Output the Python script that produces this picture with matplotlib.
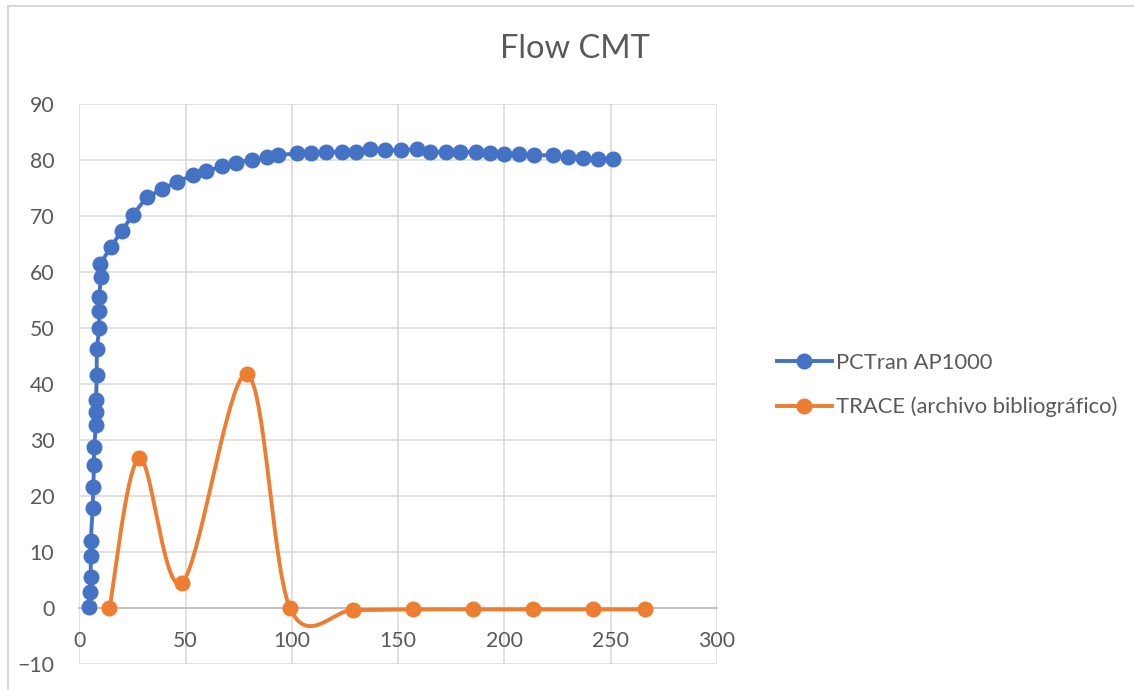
import numpy as np
import matplotlib
matplotlib.use("Agg")
import matplotlib.pyplot as plt
from matplotlib.patches import Rectangle

# ---- data ----
pctran_x = [4.7, 5.0, 5.4, 5.4, 5.4, 6.3, 6.6, 6.9, 6.9, 7.9, 7.9, 7.9, 8.2, 8.2,
            9.4, 9.4, 9.4, 10.1, 9.9,
            14.8, 20.0, 25.1, 31.7, 38.8, 46.1, 53.4, 59.6, 67.0, 73.7, 81.1, 88.2,
            93.6, 102.3, 108.9, 116.1, 123.5, 130.2, 136.8, 143.9, 151.2, 158.8,
            165.0, 172.6, 179.2, 186.5, 193.3, 200.0, 207.0, 214.0, 222.8, 230.1,
            237.2, 244.2, 251.3]
pctran_y = [0.2, 2.9, 5.6, 9.3, 12.1, 17.9, 21.7, 25.6, 28.75, 32.7, 35.0, 37.2,
            41.7, 46.3, 50.0, 53.1, 55.6, 59.2, 61.5,
            64.5, 67.4, 70.2, 73.4, 74.8, 76.2, 77.3, 78.0, 78.9, 79.6, 80.1, 80.6,
            80.9, 81.25, 81.25, 81.5, 81.5, 81.5, 82.0, 81.8, 81.8, 81.95,
            81.5, 81.5, 81.5, 81.5, 81.3, 81.2, 81.1, 80.9, 80.9, 80.6,
            80.4, 80.2, 80.2]

trace_x = [14.2, 28.2, 48.2, 78.8, 99.2, 128.9, 157.2, 185.4, 213.6, 241.9, 266.4]
trace_y = [0.0, 26.8, 4.5, 41.8, 0.0, -0.3, -0.2, -0.2, -0.2, -0.2, -0.2]

series_names = ["PCTran AP1000", "TRACE (archivo bibliográfico)"]
title = "Flow CMT"
x_ticks = [0, 50, 100, 150, 200, 250, 300]
y_ticks = [-10, 0, 10, 20, 30, 40, 50, 60, 70, 80, 90]

BLUE = "#4472C4"
ORANGE = "#ED7D31"
TXT = "#595959"
GRID = "#d9d9d9"


def smooth(xs, ys, n=40):
    """Excel-like smoothed line (Catmull-Rom converted to cubic Bezier)."""
    P = np.column_stack([xs, ys]).astype(float)
    m = len(P)
    out = []
    t = np.linspace(0, 1, n)
    for i in range(m - 1):
        p0 = P[i - 1] if i > 0 else P[i]
        p1 = P[i]
        p2 = P[i + 1]
        p3 = P[i + 2] if i + 2 < m else P[i + 1]
        c1 = p1 + (p2 - p0) / 6.0
        c2 = p2 - (p3 - p1) / 6.0
        seg = ((1 - t) ** 3)[:, None] * p1 + (3 * (1 - t) ** 2 * t)[:, None] * c1 \
            + (3 * (1 - t) * t ** 2)[:, None] * c2 + (t ** 3)[:, None] * p2
        out.append(seg if i == 0 else seg[1:])
    s = np.vstack(out)
    return s[:, 0], s[:, 1]


plt.rcParams['font.family'] = ['Lato', 'DejaVu Sans']

W, H = 1134, 690
fig = plt.figure(figsize=(W / 100, H / 100), dpi=100)
fig.patch.set_facecolor("white")

# chart border
fig.patches.append(Rectangle((8 / W, -0.1), 1.2, 1.1 - 6 / H,
                             transform=fig.transFigure, fill=False,
                             edgecolor=GRID, linewidth=1.5, zorder=0))

ax = fig.add_axes([79.3 / W, 1 - 664.3 / H, (716.8 - 79.3) / W, (664.3 - 104.3) / H])
ax.set_xlim(0, 300)
ax.set_ylim(-10, 90)
ax.set_xticks(x_ticks)
ax.set_yticks(y_ticks)
ax.grid(True, color=GRID, linewidth=1.1, zorder=0)
ax.set_axisbelow(True)
for s in ["top", "right", "left"]:
    ax.spines[s].set_visible(False)
ax.spines["bottom"].set_position(("data", 0))
ax.spines["bottom"].set_color("#bfbfbf")
ax.spines["bottom"].set_linewidth(1.3)
ax.tick_params(axis="both", length=0, labelsize=15.3, labelcolor=TXT)
ax.tick_params(axis="x", pad=16)
ax.tick_params(axis="y", pad=18)

# series
bx, by = pctran_x, pctran_y
ax.plot(bx, by, color=BLUE, linewidth=2.8, zorder=3)
ax.plot(bx, by, linestyle="none", marker="o", markersize=10.5, color=BLUE, zorder=4)
ox, oy = smooth(trace_x, trace_y)
ax.plot(ox, oy, color=ORANGE, linewidth=2.8, zorder=3)
ax.plot(trace_x, trace_y, linestyle="none", marker="o", markersize=10.5, color=ORANGE, zorder=4)

# legend handles
h1, = ax.plot([], [], color=BLUE, linewidth=2.8, marker="o", markersize=10.5)
h2, = ax.plot([], [], color=ORANGE, linewidth=2.8, marker="o", markersize=10.5)
leg = fig.legend([h1, h2], series_names, loc="center left",
                 bbox_to_anchor=(757 / W, 1 - 385 / H), frameon=False,
                 fontsize=15.8, handlelength=2.5, handletextpad=0.2,
                 labelspacing=1.1, labelcolor=TXT)

fig.text(575 / W, 1 - 49 / H, title, ha="center", va="center",
         fontsize=23.5, color=TXT)

fig.savefig("out.png", dpi=100, facecolor="white")
